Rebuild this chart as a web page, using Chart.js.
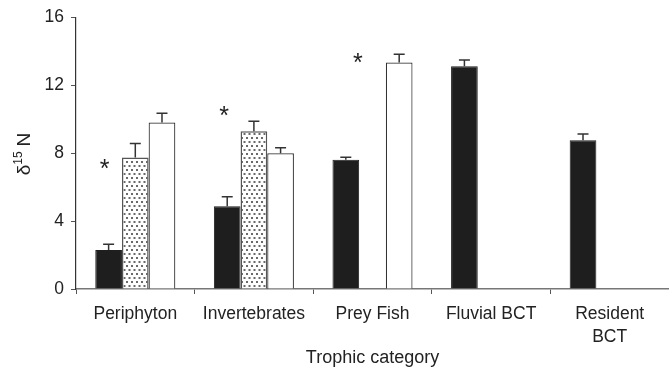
<!DOCTYPE html>
<html>
<head>
<meta charset="utf-8">
<script src="https://cdn.jsdelivr.net/npm/chart.js@4"></script>
<style>
  html, body { margin: 0; padding: 0; background: #fff; }
  #wrap { width: 669px; height: 369px; }
</style>
</head>
<body>
<div id="wrap"><canvas id="ChartN"></canvas></div>
<script>
// Chart x axis
var categories = ['Periphyton', 'Invertebrates', 'Prey Fish', 'Fluvial BCT', ['Resident', 'BCT']];

// Chart y axis (mean d15N and SE for each series)
var seriesBlack = [2.3, 4.88, 7.62, 13.13, 8.77];
var errBlack = [0.33, 0.55, 0.15, 0.37, 0.37];
var seriesDotted = [7.75, 9.3, null, null, null];
var errDotted = [0.83, 0.58, null, null, null];
var seriesWhite = [9.81, 8.0, 13.35, null, null];
var errWhite = [0.55, 0.32, 0.48, null, null];
var yTicks = [0, 4, 8, 12, 16];

// Significance marks: [category index, y value]
var asterisks = [[0, 7.3], [1, 10.4], [2, 13.55]];

var textColor = '#222';
var fontFamily = "'Liberation Sans', Arial, sans-serif";

// Dotted fill pattern
function makeDots(){
  var c = document.createElement('canvas');
  c.width = 5; c.height = 8;
  var g = c.getContext('2d');
  g.fillStyle = '#fff';
  g.fillRect(0, 0, 5, 8);
  g.fillStyle = '#6a6a6a';
  g.fillRect(1, 1, 2, 2);
  g.fillRect(3.5, 5, 2, 2);
  g.fillRect(-1.5, 5, 2, 2);
  return g.createPattern(c, 'repeat');
}

// Error bars, only the upper half
var errorBars = {
  id: 'errorBars',
  afterDatasetsDraw: function(chart){
    var ctx = chart.ctx;
    var y = chart.scales.y;
    ctx.save();
    ctx.strokeStyle = '#333';
    ctx.lineWidth = 1.5;
    chart.data.datasets.forEach(function(ds, i){
      var meta = chart.getDatasetMeta(i);
      meta.data.forEach(function(bar, j){
        if (ds.data[j] == null || ds.err[j] == null) return;
        var top = y.getPixelForValue(ds.data[j] + ds.err[j]);
        ctx.beginPath();
        ctx.moveTo(bar.x, bar.y);
        ctx.lineTo(bar.x, top);
        ctx.moveTo(bar.x - 5.5, top);
        ctx.lineTo(bar.x + 5.5, top);
        ctx.stroke();
      });
    });
    ctx.restore();
  }
};

// Asterisks and rotated y title
var extras = {
  id: 'extras',
  afterDraw: function(chart){
    var ctx = chart.ctx;
    var y = chart.scales.y;
    var meta = chart.getDatasetMeta(0);
    var shift = [-4, -3, 12];
    ctx.save();
    ctx.fillStyle = textColor;
    ctx.font = '25px ' + fontFamily;
    ctx.textAlign = 'center';
    ctx.textBaseline = 'middle';
    asterisks.forEach(function(a, k){
      var bar = meta.data[a[0]];
      ctx.fillText('*', bar.x + shift[k], y.getPixelForValue(a[1]) + 5);
    });
    ctx.restore();

    // y title: delta 15 N
    ctx.save();
    ctx.translate(30, 154);
    ctx.rotate(-Math.PI / 2);
    ctx.fillStyle = textColor;
    ctx.textBaseline = 'alphabetic';
    ctx.font = '19px ' + fontFamily;
    var wD = ctx.measureText('\u03b4').width;
    var wN = ctx.measureText('N').width;
    ctx.font = '12px ' + fontFamily;
    var w15 = ctx.measureText('15').width;
    var total = wD + w15 + 5 + wN;
    var x0 = -total / 2;
    ctx.font = '19px ' + fontFamily;
    ctx.fillText('\u03b4', x0, 0);
    ctx.font = '12px ' + fontFamily;
    ctx.fillText('15', x0 + wD, -8);
    ctx.font = '19px ' + fontFamily;
    ctx.fillText('N', x0 + wD + w15 + 5, 0);
    ctx.restore();
  }
};

var chartN = new Chart(document.getElementById('ChartN'), {
  type: 'bar',
  data: {
    labels: categories,
    datasets: [
      { label: 'black', data: seriesBlack, err: errBlack,
        backgroundColor: '#1e1e1e', borderColor: '#1e1e1e', borderWidth: 1 },
      { label: 'dotted', data: seriesDotted, err: errDotted,
        backgroundColor: makeDots(), borderColor: '#555', borderWidth: 1.5 },
      { label: 'white', data: seriesWhite, err: errWhite,
        backgroundColor: '#fff', borderColor: '#333', borderWidth: 1.2 }
    ]
  },
  options: {
    responsive: true,
    maintainAspectRatio: false,
    animation: false,
    categoryPercentage: 0.675,
    barPercentage: 1.0,
    layout: { padding: { top: 10, right: 0, left: 0, bottom: 0 } },
    plugins: {
      legend: { display: false },
      tooltip: { enabled: false }
    },
    scales: {
      x: {
        grid: { display: true, drawOnChartArea: false, color: '#555', tickLength: 5, offset: true },
        border: { color: '#777', width: 1.5 },
        ticks: { color: textColor, font: { family: fontFamily, size: 17.5, lineHeight: 1.35 }, padding: 8, maxRotation: 0, autoSkip: false },
        title: { display: true, text: 'Trophic category', color: textColor,
                 font: { family: fontFamily, size: 18 }, padding: { top: 10, bottom: 0 } },
        afterFit: function(s){ s.height = 80; }
      },
      y: {
        min: 0, max: 16,
        afterBuildTicks: function(s){ s.ticks = yTicks.map(function(v){ return { value: v }; }); },
        grid: { display: true, drawOnChartArea: false, color: '#555', tickLength: 5 },
        border: { color: '#333', width: 1.2 },
        ticks: { color: textColor, font: { family: fontFamily, size: 17.5 }, padding: 7 },
        afterFit: function(s){ s.width = 76; }
      }
    }
  },
  plugins: [errorBars, extras]
});
</script>
</body>
</html>
